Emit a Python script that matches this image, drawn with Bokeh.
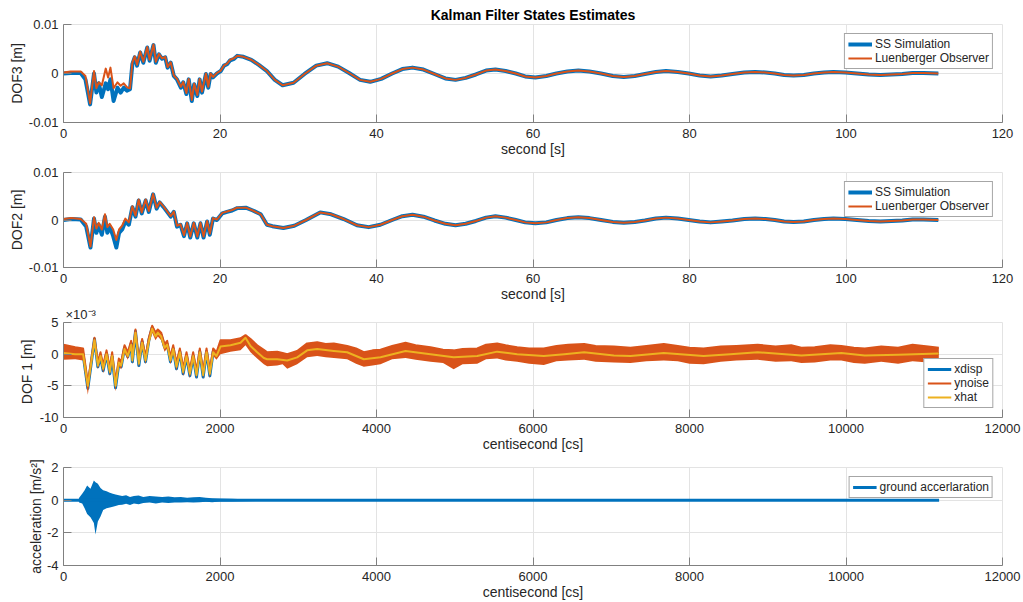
from bokeh.plotting import figure
from bokeh.layouts import column
from bokeh.models import Range1d, FixedTicker, Legend, LegendItem, Title
from bokeh.embed import file_html
from bokeh.resources import INLINE

# ---------------- data ----------------
# Panel 1: DOF3 [m] vs second [s]
dof3_t = [0.0, 0.9, 2.2, 2.8, 3.4, 3.9, 4.2, 4.5, 4.9, 5.4,
          5.7, 6.0, 6.4, 6.9, 7.3, 7.7, 8.1, 8.5, 8.8, 9.1,
          9.4, 9.8, 10.2, 10.7, 11.0, 11.5, 11.8, 12.2, 12.6, 13.0,
          13.3, 13.7, 14.1, 14.5, 15.0, 15.3, 15.7, 16.0, 16.4, 16.7,
          17.1, 17.4, 17.7, 18.2, 18.5, 18.8, 19.1, 19.6, 20.1, 20.5,
          20.9, 21.3, 21.8, 22.2,
          23.0, 24.0, 25.0, 26.0, 27.0, 28.0, 29.4, 30.8, 32.3, 33.7,
          35.1, 36.5, 37.9, 39.2, 40.6, 42.0, 43.3, 44.6, 46.0, 47.4,
          48.8, 50.1, 51.4, 52.7, 54.0, 55.2, 56.5, 57.8, 59.0, 60.3,
          61.7, 63.0, 64.4, 65.8, 67.2, 68.7, 70.2, 71.6, 73.0, 74.3,
          75.7, 77.0, 78.5, 79.9, 81.3, 82.7, 84.1, 85.5, 87.0, 88.4,
          89.7, 90.9, 92.1, 93.3, 94.6, 95.9, 97.2, 98.4, 99.9, 101.4,
          102.9, 104.4, 105.8, 107.2, 108.5, 109.9, 111.8]
dof3_ss = [0.0, 0.0001, 0.0001, -0.0012, -0.0063, 0.0000, -0.0039, -0.0020, -0.0048, -0.0020,
           -0.0032, -0.0012, -0.0056, -0.0029, -0.0039, -0.0029, -0.0035, -0.0032, 0.0019, 0.0033,
           0.0016, 0.0043, 0.0022, 0.0053, 0.0026, 0.0058, 0.0022, 0.0039, 0.0030, 0.0033,
           0.0012, 0.0022, -0.0005, -0.0012, -0.0029, -0.0018, -0.0042, -0.0012, -0.0056, -0.0022,
           -0.0046, -0.0012, -0.0039, -0.0001, -0.0029, -0.0001, -0.0008, 0.0000, 0.0005, 0.0016,
           0.0019, 0.0027, 0.0030, 0.0036,
           0.0034, 0.0028, 0.0017, 0.0005, -0.0013, -0.0024, -0.0019, -0.0001, 0.0016, 0.0021,
           0.0014, 0.0001, -0.0013, -0.0017, -0.0011, 0.0000, 0.0009, 0.0012, 0.0008, -0.0001,
           -0.0010, -0.0013, -0.0009, -0.0002, 0.0006, 0.0008, 0.0005, 0.0000, -0.0006, -0.0008,
           -0.0005, 0.0000, 0.0004, 0.0006, 0.0004, 0.0000, -0.0005, -0.0007, -0.0005, -0.0001,
           0.0003, 0.0005, 0.0003, 0.0000, -0.0004, -0.0006, -0.0004, -0.0001, 0.0002, 0.0003,
           0.0002, 0.0000, -0.0003, -0.0004, -0.0003, 0.0000, 0.0002, 0.0003, 0.0002, 0.0000,
           -0.0002, -0.0003, -0.0002, -0.0001, 0.0001, 0.0001, 0.0000]
dof3_obs_early = [0.0002, 0.0004, 0.0004, -0.0005, -0.0061, 0.0005, -0.0030, -0.0018, -0.0024, 0.0010,
                  -0.0008, 0.0012, -0.0030, -0.0018, -0.0025, -0.0020, -0.0028, -0.0030, 0.0022, 0.0035,
                  0.0018, 0.0045, 0.0024, 0.0054, 0.0028, 0.0059, 0.0024, 0.0040, 0.0031, 0.0034,
                  0.0013, 0.0023, -0.0004, -0.0011, -0.0027, -0.0017, -0.0040, -0.0011, -0.0054, -0.0021,
                  -0.0044, -0.0011, -0.0037, 0.0000, -0.0027, 0.0000, -0.0007, 0.0001, 0.0006, 0.0016,
                  0.0020, 0.0028, 0.0031, 0.0036]
# after ~22 s the observer lies on the simulation
dof3_obs = dof3_obs_early + dof3_ss[len(dof3_obs_early):]

# Panel 2: DOF2 [m] vs second [s]
dof2_t = [0.0, 1.0, 2.2, 2.9, 3.45, 3.9, 4.2, 4.5, 4.9, 5.3,
          5.6, 5.9, 6.35, 6.75, 7.1, 7.5, 7.9, 8.35, 8.8, 9.2,
          9.6, 10.0, 10.5, 10.9, 11.45, 11.9, 12.3, 12.8, 13.25, 13.7,
          14.1, 14.5, 14.95, 15.4, 15.8, 16.2, 16.65, 17.1, 17.5, 17.9,
          18.35, 18.7, 19.1, 19.6, 20.3, 20.9, 21.55, 22.2,
          23.3, 24.2, 25.2, 26.0, 26.7, 28.1, 29.5, 31.0, 32.8, 34.2,
          35.8, 37.5, 39.0, 40.5, 42.0, 43.3, 44.6, 46.0, 47.4, 48.8,
          50.1, 51.4, 52.7, 54.0, 55.2, 56.5, 57.8, 59.0, 60.3, 61.7,
          63.0, 64.4, 65.8, 67.2, 68.7, 70.2, 71.6, 73.0, 74.3, 75.7,
          77.0, 78.5, 79.9, 81.3, 82.7, 84.1, 85.5, 87.0, 88.4, 89.7,
          90.9, 92.1, 93.3, 94.6, 95.9, 97.2, 98.4, 99.9, 101.4, 102.9,
          104.4, 105.8, 107.2, 108.5, 109.9, 111.8]
dof2_ss = [0.0, 0.0002, 0.0001, -0.0014, -0.0058, 0.0003, -0.0027, -0.0010, -0.0031, 0.0007,
           -0.0027, -0.0014, -0.0034, -0.0058, -0.0027, -0.0020, -0.0003, -0.0010, 0.0027, 0.0007,
           0.0041, 0.0014, 0.0041, 0.0017, 0.0054, 0.0024, 0.0037, 0.0027, 0.0017, 0.0007,
           0.0017, -0.0014, -0.0010, -0.0034, -0.0007, -0.0037, -0.0007, -0.0037, -0.0007, -0.0037,
           -0.0003, -0.0031, 0.0003, 0.0000, 0.0014, 0.0017, 0.0020, 0.0025,
           0.0026, 0.0020, 0.0012, -0.0010, -0.0013, -0.0017, -0.0012, 0.0000, 0.0016, 0.0012,
           0.0002, -0.0011, -0.0015, -0.0010, 0.0000, 0.0008, 0.0011, 0.0007, -0.0001, -0.0008,
           -0.0011, -0.0008, -0.0002, 0.0005, 0.0008, 0.0005, 0.0000, -0.0005, -0.0007, -0.0005,
           0.0000, 0.0004, 0.0006, 0.0004, 0.0000, -0.0004, -0.0006, -0.0004, -0.0001, 0.0003,
           0.0005, 0.0003, 0.0000, -0.0003, -0.0005, -0.0003, -0.0001, 0.0002, 0.0003, 0.0002,
           0.0000, -0.0003, -0.0004, -0.0003, 0.0000, 0.0002, 0.0003, 0.0002, 0.0000, -0.0002,
           -0.0003, -0.0002, -0.0001, 0.0001, 0.0001, 0.0000]
dof2_obs_early = [0.0002, 0.0004, 0.0002, -0.0008, -0.0056, 0.0006, -0.0018, -0.0006, -0.0020, 0.0012,
                  -0.0015, -0.0008, -0.0020, -0.0042, -0.0020, -0.0012, 0.0003, -0.0005, 0.0029, 0.0009,
                  0.0043, 0.0016, 0.0043, 0.0019, 0.0055, 0.0026, 0.0038, 0.0028, 0.0018, 0.0008,
                  0.0018, -0.0012, -0.0009, -0.0032, -0.0006, -0.0035, -0.0006, -0.0035, -0.0006, -0.0035,
                  -0.0002, -0.0029, 0.0004, 0.0001, 0.0015, 0.0018, 0.0021, 0.0026]
dof2_obs = dof2_obs_early + dof2_ss[len(dof2_obs_early):]

# Panel 3: DOF 1 [m] (x 1e-3) vs centisecond [cs]
dof1_t = [0, 150, 250, 311, 396, 439, 473, 507, 550, 592,
          622, 665, 707, 737, 780, 822, 865, 880, 920, 963,
          1005, 1048, 1091, 1133, 1176, 1206, 1248, 1291, 1325, 1367,
          1402, 1444, 1487, 1529, 1572, 1615, 1657, 1700, 1742, 1785,
          1828, 1870, 1913, 1955, 2006, 2134, 2262, 2326, 2390, 2475,
          2560, 2603, 2731, 2859, 2986, 3114, 3242, 3455, 3625, 3838,
          4051, 4371, 4690, 4986, 5287, 5542, 5798, 6138, 6400, 6654,
          7033, 7246, 7672, 8180, 8520, 8870, 9430, 9940, 10240, 10666,
          11186]
xhat = [0.2, 0.0, 0.0, -5.0, 2.2, -1.8, -0.3, -2.3, 0.0, -2.8,
        -0.3, -5.0, -1.3, -1.8, 0.8, -0.3, 1.5, -1.0, 3.4, -1.5,
        1.8, -1.0, 2.0, 4.0, 2.8, 3.4, 2.8, 1.0, 1.5, -1.0,
        0.8, -2.0, 0.3, -2.8, -0.3, -3.1, -0.3, -3.3, 0.3, -3.3,
        0.3, -3.1, 0.3, -0.3, 1.2, 1.4, 1.8, 2.6, 1.3, 0.3,
        -0.6, -0.8, -0.8, -1.0, -0.5, 0.6, 0.8, 0.5, 0.3, -0.8,
        -0.5, 0.5, 0.0, -0.5, -0.3, 0.4, 0.0, -0.3, 0.0, 0.3,
        -0.2, -0.3, 0.2, -0.3, 0.0, 0.3, -0.2, 0.2, -0.2, -0.1,
        0.1]
xdisp = [0.0, 0.0, 0.0, -5.4, 2.4, -2.0, -0.4, -2.6, 0.1, -3.1,
         -0.4, -5.3, -1.5, -2.0, 1.0, -0.4, 1.7, -1.2, 3.6, -1.8,
         2.0, -1.2, 2.2, 4.2, 3.0, 3.6, 3.0, 1.1, 1.6, -1.2,
         0.9, -2.3, 0.4, -3.1, -0.3, -3.4, -0.3, -3.6, 0.4, -3.6,
         0.4, -3.4, 0.4, -0.3, 1.1, 1.4, 1.8, 2.5, 1.3, 0.3,
         -0.6, -0.8, -0.8, -1.0, -0.5, 0.6, 0.8, 0.5, 0.3, -0.8,
         -0.5, 0.5, 0.0, -0.5, -0.3, 0.4, 0.0, -0.3, 0.0, 0.3,
         -0.2, -0.3, 0.2, -0.3, 0.0, 0.3, -0.2, 0.2, -0.2, -0.1,
         0.1]
# ynoise: the dense measured signal, read as its upper / lower envelope
noise_t = [0, 150, 250, 311, 396, 439, 473, 507, 550, 592,
           622, 665, 707, 737, 780, 822, 865, 880, 920, 963,
           1005, 1048, 1091, 1133, 1176, 1206, 1248, 1291, 1325, 1367,
           1402, 1444, 1487, 1529, 1572, 1615, 1657, 1700, 1742, 1785,
           1828, 1870, 1913, 1955, 2006, 2134, 2262, 2326, 2390, 2475,
           2560, 2603, 2731, 2800, 2859, 2986, 3114, 3242, 3350, 3455,
           3625, 3738, 3838, 3950, 4051, 4200, 4371, 4500, 4690, 4850,
           4986, 5100, 5287, 5400, 5542, 5650, 5798, 5950, 6138, 6300,
           6450, 6654, 6800, 7033, 7246, 7450, 7672, 7850, 8000, 8180,
           8400, 8600, 8870, 9100, 9300, 9430, 9600, 9800, 9940, 10100,
           10240, 10450, 10666, 10850, 11050, 11186]
noise_hi = [1.5, 1.1, 0.9, -4.5, 2.6, -1.2, 0.3, -1.7, 0.6, -2.2,
            0.3, -4.4, -0.7, -1.2, 1.4, 0.3, 2.1, -0.4, 3.9, -0.9,
            2.4, -0.4, 2.6, 4.5, 3.4, 3.9, 3.4, 1.6, 2.1, -0.4,
            1.4, -1.4, 0.9, -2.2, 0.3, -2.5, 0.3, -2.7, 0.9, -2.7,
            0.9, -2.5, 0.9, 0.3, 2.2, 2.2, 2.5, 3.0, 2.4, 1.4,
            0.7, 0.3, 0.4, 0.2, 0.0, 0.5, 1.7, 1.9, 1.6, 1.7,
            1.3, 0.9, 0.3, 0.6, 0.7, 1.3, 1.8, 1.4, 1.1, 0.7,
            0.6, 0.8, 0.9, 1.5, 1.7, 1.4, 1.1, 0.9, 0.9, 1.3,
            1.5, 1.6, 1.3, 1.2, 1.0, 1.3, 1.6, 1.3, 1.0, 0.9,
            1.2, 1.3, 1.5, 1.2, 1.4, 1.0, 1.1, 1.4, 1.3, 1.0,
            0.9, 1.2, 1.0, 1.5, 1.2, 1.0]
noise_lo = [-0.9, -0.8, -1.0, -6.4, 1.6, -2.4, -0.9, -3.0, -0.6, -3.4,
            -0.9, -5.9, -1.9, -2.4, 0.2, -0.9, 0.9, -1.6, 2.8, -2.1,
            1.2, -1.6, 1.4, 3.4, 2.2, 2.8, 2.2, 0.4, 0.9, -1.6,
            0.2, -2.6, -0.3, -3.5, -0.9, -3.8, -0.9, -3.9, -0.3, -3.9,
            -0.3, -3.8, -0.3, -0.9, 0.0, 0.4, 0.6, 1.4, 0.3, -0.7,
            -1.6, -1.9, -1.8, -1.6, -2.3, -1.6, -0.5, -0.3, -0.5, -0.6,
            -0.8, -1.5, -2.0, -1.8, -1.6, -0.8, -0.6, -0.9, -1.2, -1.4,
            -2.4, -1.6, -1.5, -0.8, -0.7, -1.0, -1.2, -1.5, -1.7, -1.1,
            -1.0, -0.9, -1.2, -1.3, -1.4, -1.1, -1.0, -1.1, -1.5, -1.6,
            -1.2, -1.0, -0.9, -1.2, -1.1, -1.4, -1.3, -1.0, -1.0, -1.4,
            -1.5, -1.2, -1.5, -1.1, -1.3, -1.4]

# Panel 4: ground acceleration [m/s^2] vs centisecond [cs]
accel_t = [0, 11190]
accel_v = [0.0, 0.0]
burst_t = [190, 200, 239, 270, 302, 345, 388, 409, 439, 473,
           507, 550, 592, 630, 665, 707, 750, 800, 850, 900,
           960, 1020, 1100, 1180, 1260, 1340, 1420, 1500, 1580, 1660,
           1740, 1820, 1900, 2000, 2150, 2300, 2500, 2700, 2750]
burst_hi = [0.0, 0.15, 0.4, 0.6, 0.9, 0.7, 1.2, 1.1, 1.0, 0.75,
            0.6, 0.55, 0.45, 0.4, 0.35, 0.3, 0.25, 0.3, 0.2, 0.25,
            0.28, 0.2, 0.25, 0.22, 0.2, 0.22, 0.18, 0.2, 0.15, 0.18,
            0.2, 0.15, 0.12, 0.1, 0.08, 0.06, 0.05, 0.03, 0.0]
burst_lo = [0.0, -0.15, -0.2, -0.5, -0.85, -1.05, -1.4, -2.1, -1.3, -1.0,
            -0.6, -0.5, -0.45, -0.4, -0.35, -0.3, -0.28, -0.22, -0.3, -0.2,
            -0.25, -0.18, -0.15, -0.2, -0.15, -0.18, -0.15, -0.15, -0.12, -0.15,
            -0.12, -0.1, -0.12, -0.08, -0.08, -0.06, -0.05, -0.03, 0.0]

# tick labels
sec_ticks = [0, 20, 40, 60, 80, 100, 120]
cs_ticks = [0, 2000, 4000, 6000, 8000, 10000, 12000]
dof_ticks = [-0.01, 0, 0.01]
dof_tick_labels = {-0.01: "-0.01", 0: "0", 0.01: "0.01"}
dof1_ticks = [-10, -5, 0, 5]
dof1_tick_labels = {-10: "-10", -5: "-5", 0: "0", 5: "5"}
acc_ticks = [-4, -2, 0, 2]
acc_tick_labels = {-4: "-4", -2: "-2", 0: "0", 2: "2"}

for a, b in [(dof3_t, dof3_ss), (dof3_t, dof3_obs), (dof2_t, dof2_ss), (dof2_t, dof2_obs),
             (dof1_t, xhat), (dof1_t, xdisp), (noise_t, noise_hi), (noise_t, noise_lo),
             (burst_t, burst_hi), (burst_t, burst_lo)]:
    assert len(a) == len(b), (len(a), len(b))

# ---------------- styling ----------------
FONT = "Liberation Sans"
BLUE = "#0072BD"
ORANGE = "#D95319"
YELLOW = "#EDB120"
TXT = "#262626"
AX = "#808080"
GRID = "#e3e3e3"
W = 1022


def base(height, top, bottom, xr, yr, xticks, yticks, ylabels, xlabel, ylabel, ylab_standoff):
    p = figure(width=W, height=height, x_range=Range1d(*xr), y_range=Range1d(*yr),
               output_backend="svg", toolbar_location=None,
               min_border_left=63, min_border_right=W - 1002,
               min_border_top=top, min_border_bottom=bottom)
    p.xaxis.ticker = FixedTicker(ticks=xticks)
    p.yaxis.ticker = FixedTicker(ticks=yticks)
    p.yaxis.major_label_overrides = ylabels
    p.xaxis.axis_label = xlabel
    p.yaxis.axis_label = ylabel
    for ax in (p.xaxis[0], p.yaxis[0]):
        ax.axis_line_color = AX
        ax.major_tick_line_color = AX
        ax.major_tick_in = 8
        ax.major_tick_out = 0
        ax.minor_tick_line_color = None
        ax.major_label_text_font = FONT
        ax.major_label_text_font_size = "13px"
        ax.major_label_text_color = TXT
        ax.axis_label_text_font = FONT
        ax.axis_label_text_font_size = "14px"
        ax.axis_label_text_font_style = "normal"
        ax.axis_label_text_color = TXT
    p.xaxis.major_label_standoff = 6
    p.yaxis.major_label_standoff = 5
    p.xaxis.axis_label_standoff = 0
    p.yaxis.axis_label_standoff = ylab_standoff
    p.grid.grid_line_color = GRID
    p.outline_line_color = GRID
    p.background_fill_color = "white"
    p.border_fill_color = "white"
    return p


def style_legend(leg, loc):
    leg.location = loc
    leg.margin = 9
    leg.padding = 3
    leg.spacing = 0
    leg.label_height = 12
    leg.glyph_height = 12
    leg.glyph_width = 24
    leg.label_standoff = 3
    leg.label_text_font = FONT
    leg.label_text_font_size = "12px"
    leg.label_text_color = TXT
    leg.border_line_color = "#4d4d4d"
    leg.border_line_width = 1
    leg.background_fill_color = "white"
    leg.background_fill_alpha = 1.0


# Panel 1
p1 = base(160, 24, 38, (0, 120), (-0.01, 0.01), sec_ticks, dof_ticks, dof_tick_labels,
          "second [s]", "DOF3 [m]", 1)
p1.title.text = "Kalman Filter States Estimates"
p1.title.align = "center"
p1.title.text_font = FONT
p1.title.text_font_size = "14px"
p1.title.text_font_style = "bold"
p1.title.text_color = "#000000"
p1.title.standoff = 4
r11 = p1.line(dof3_t, dof3_ss, line_color=BLUE, line_width=4, line_join="round")
r12 = p1.line(dof3_t, dof3_obs, line_color=ORANGE, line_width=2, line_join="round")
leg1 = Legend(items=[LegendItem(label="SS Simulation", renderers=[r11]),
                     LegendItem(label="Luenberger Observer", renderers=[r12])])
style_legend(leg1, "top_right")
p1.add_layout(leg1)

# Panel 2
p2 = base(144, 12, 34, (0, 120), (-0.01, 0.01), sec_ticks, dof_ticks, dof_tick_labels,
          "second [s]", "DOF2 [m]", 1)
r21 = p2.line(dof2_t, dof2_ss, line_color=BLUE, line_width=4, line_join="round")
r22 = p2.line(dof2_t, dof2_obs, line_color=ORANGE, line_width=2, line_join="round")
leg2 = Legend(items=[LegendItem(label="SS Simulation", renderers=[r21]),
                     LegendItem(label="Luenberger Observer", renderers=[r22])])
style_legend(leg2, "top_right")
p2.add_layout(leg2)

# Panel 3
p3 = base(151, 15, 38, (0, 12000), (-10, 5), cs_ticks, dof1_ticks, dof1_tick_labels,
          "centisecond [cs]", "DOF 1  [m]", 2)
p3.add_layout(Title(text="\u00d710\u207b\u00b3", align="left", text_font=FONT,
                    text_font_size="13px", text_font_style="normal", text_color=TXT,
                    offset=2, standoff=1), "above")
r31 = p3.line(dof1_t, xdisp, line_color=BLUE, line_width=3, line_join="round")
p3.varea(x=noise_t, y1=noise_lo, y2=noise_hi, fill_color=ORANGE, fill_alpha=1.0)
r32 = p3.line(noise_t, noise_hi, line_color=ORANGE, line_width=2, line_join="round")
r33 = p3.line(dof1_t, xhat, line_color=YELLOW, line_width=2, line_join="round")
leg3 = Legend(items=[LegendItem(label="xdisp", renderers=[r31]),
                     LegendItem(label="ynoise", renderers=[r32]),
                     LegendItem(label="xhat", renderers=[r33])])
style_legend(leg3, "bottom_right")
p3.add_layout(leg3)

# Panel 4
p4 = base(147, 12, 36, (0, 12000), (-4, 2), cs_ticks, acc_ticks, acc_tick_labels,
          "centisecond [cs]", "acceleration [m/s\u00b2]", 0)
p4.varea(x=burst_t, y1=burst_lo, y2=burst_hi, fill_color=BLUE, fill_alpha=1.0)
r41 = p4.line(accel_t, accel_v, line_color=BLUE, line_width=3)
leg4 = Legend(items=[LegendItem(label="ground accerlaration", renderers=[r41])])
style_legend(leg4, "top_right")
p4.add_layout(leg4)

layout = column(p1, p2, p3, p4, spacing=0)
open("out.html", "w").write(file_html(layout, INLINE))
